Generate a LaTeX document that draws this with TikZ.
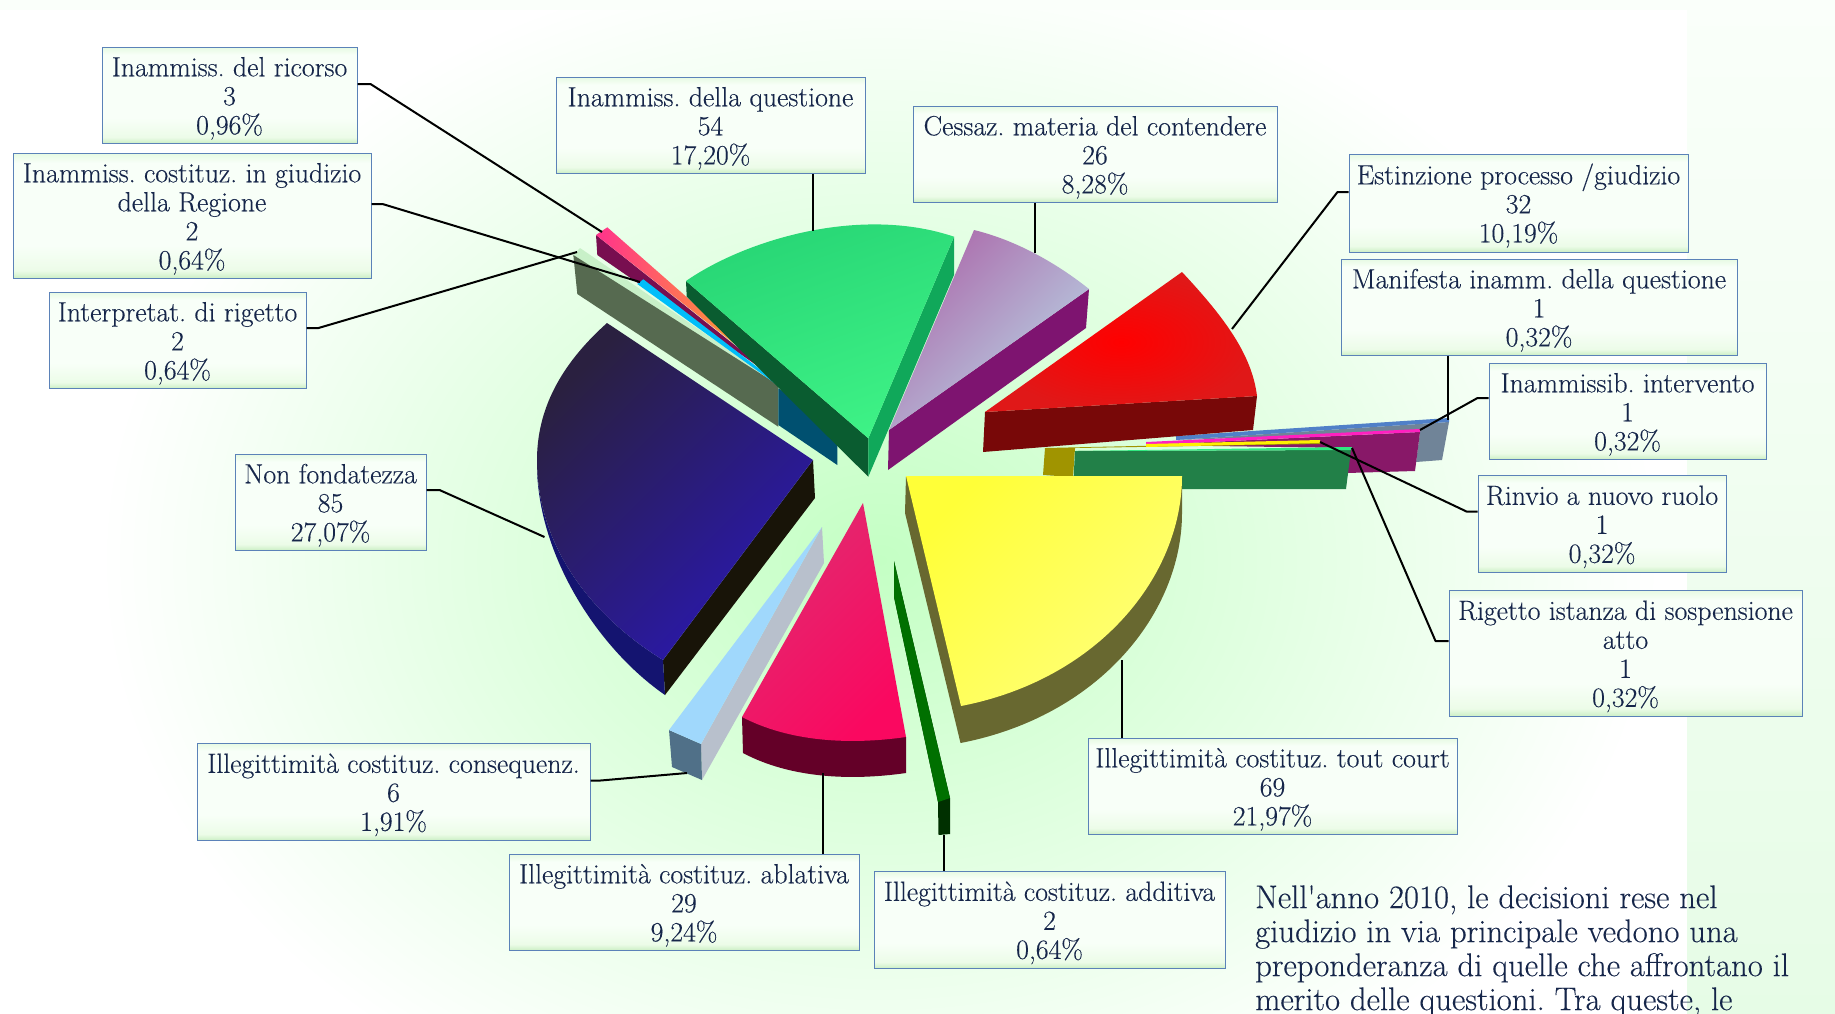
\documentclass[tikz,border=0pt]{standalone}
\usepackage{fontspec}
\setmainfont{Latin Modern Roman}[Ligatures=TeXOff,FakeBold=0.25]
\usetikzlibrary{calc}
\definecolor{txt}{HTML}{16264A}
\definecolor{bord}{HTML}{5B82B8}
\definecolor{glowa}{HTML}{CDEFC6}
\definecolor{glowb}{HTML}{ECFCE8}
\definecolor{glowc}{HTML}{F8FFF8}
\definecolor{glowd}{HTML}{E6FAE2}
\pgfdeclareverticalshading{labshade}{100bp}{color(0bp)=(glowa);color(25bp)=(glowa);color(28bp)=(glowb);color(38bp)=(glowc);color(71bp)=(glowc);color(75bp)=(glowd);color(100bp)=(glowd)}
\tikzset{
 x=1pt,y=-1pt,
 lab/.style={shade,shading=labshade,draw=bord,line width=1pt,align=center,inner sep=0pt,text=txt,
   font=\fontsize{27.8}{29}\selectfont\frenchspacing},
 conn/.style={draw=black,line width=2pt,line join=round}
}
\newcommand{\labbox}[6]{% name x1 y1 x2 y2 text
 \path node[lab,minimum width={#4-#2},minimum height={#5-#3}] (#1) at ({(#2+#4)/2},{(#3+#5)/2}) {\rule{0pt}{26pt}#6};}
\begin{document}
\begin{tikzpicture}
\useasboundingbox (0,0) rectangle (1835,1013);
% background
\shade[top color={rgb,255:red,250;green,255;blue,250},bottom color={rgb,255:red,230;green,252;blue,230}] (0,0) rectangle (1835,1020);
\begin{scope}
\clip (0,10) rectangle (1687,1020);
\fill[white] (0,10) rectangle (1687,1020);
\shade[inner color={rgb,255:red,196;green,255;blue,196},outer color=white] (880,560) ellipse [x radius=780,y radius=610];
\end{scope}
% right-hand thin slices
\fill[color={rgb,255:red,112;green,132;blue,152}] (1176,440) -- (1449,422) -- (1442,460) -- (1416,462) -- (1420,432) -- cycle;
\fill[color={rgb,255:red,80;green,128;blue,200}] (1176,436) -- (1449,418) -- (1449,422) -- (1176,440) -- cycle;
\fill[color={rgb,255:red,136;green,24;blue,104}] (1146,445) -- (1420,432) -- (1415,471) -- (1347,473) -- (1350,448) -- cycle;
\fill[color={rgb,255:red,255;green,32;blue,192}] (1146,442) -- (1420,429) -- (1420,432) -- (1146,445) -- cycle;
\fill[color={rgb,255:red,160;green,148;blue,0}] (1045,448) -- (1320,442) -- (1320,444) -- (1075,448) -- (1073,477) -- (1043,475) -- cycle;
\fill[color={rgb,255:red,255;green,240;blue,0}] (1146,444) -- (1320,440) -- (1320,443) -- (1146,447) -- cycle;
\fill[color={rgb,255:red,34;green,128;blue,72}] (1075,451) -- (1351,450) -- (1346,489) -- (1073,489) -- cycle;
\fill[color={rgb,255:red,48;green,232;blue,128}] (1075,451) -- (1352,447) -- (1351,450) -- cycle;
% red
\fill[color={rgb,255:red,120;green,8;blue,8}] (985,412) -- (1257,396) -- (1253,430) -- (983,452) -- cycle;
\shade[inner color=red,outer color={rgb,255:red,224;green,24;blue,24}] (985,412) -- (1182,272) .. controls (1225,318) and (1252,355) .. (1257,396) -- cycle;
% mauve
\fill[color={rgb,255:red,126;green,20;blue,112}] (889,430) -- (888,470) -- (1086,328) -- (1089,289) -- cycle;
\shade[top color={rgb,255:red,172;green,108;blue,172},bottom color={rgb,255:red,184;green,214;blue,230},shading angle=45] (889,430) -- (974,230) .. controls (1015,240) and (1055,262) .. (1089,289) -- cycle;
% left thin slices
\fill[color={rgb,255:red,200;green,240;blue,200}] (580,248) -- (573,255) -- (778,387) -- (780,385) -- cycle;
\fill[color={rgb,255:red,86;green,106;blue,80}] (573.3,255) -- (577.3,294) -- (778.3,426.7) -- (778.3,385) -- cycle;
\fill[color={rgb,255:red,120;green,14;blue,80}] (596,235) -- (597.3,255) -- (785,385) -- cycle;
\shade[left color={rgb,255:red,255;green,50;blue,140},middle color={rgb,255:red,255;green,110;blue,60},right color={rgb,255:red,255;green,190;blue,20}] (607.3,227.3) -- (596,235) -- (786.7,385) -- cycle;
\fill[color={rgb,255:red,0;green,80;blue,112}] (778.3,388.3) -- (837.3,422.7) -- (837.3,465) -- (778.3,425) -- cycle;
\fill[color={rgb,255:red,0;green,190;blue,250}] (643.3,279.3) -- (637.3,284) -- (828,421.7) -- cycle;
% green
\fill[color={rgb,255:red,10;green,92;blue,48}] (686,281) -- (686.7,296.7) -- (868.3,476.7) -- (868.3,438.3) -- cycle;
\fill[color={rgb,255:red,16;green,168;blue,90}] (954,236.7) -- (954,275) -- (868.3,476.7) -- (868.3,438.3) -- cycle;
\shade[top color={rgb,255:red,38;green,212;blue,116},bottom color={rgb,255:red,62;green,242;blue,134},shading angle=20] (868.3,438.3) -- (686,281) .. controls (745,240) and (860,205) .. (954,236.7) -- cycle;
% blue
\fill[color={rgb,255:red,24;green,20;blue,8}] (813,460) -- (815,498) -- (665,695) -- (663,660) -- cycle;
\fill[color={rgb,255:red,20;green,20;blue,112}] (537,460) .. controls (537,545) and (590,615) .. (663,660) -- (665,695) .. controls (600,650) and (540,560) .. (537,470) -- cycle;
\shade[top color={rgb,255:red,42;green,32;blue,64},bottom color={rgb,255:red,42;green,24;blue,176},shading angle=45] (813,460) -- (607,323) .. controls (560,365) and (537,410) .. (537,460) .. controls (537,545) and (590,615) .. (663,660) -- cycle;
% light blue sliver
\fill[color={rgb,255:red,184;green,192;blue,204}] (822,527) -- (824,563) -- (702,780) -- (701,744) -- cycle;
\fill[color={rgb,255:red,80;green,112;blue,136}] (669,730) -- (701,744) -- (702,780) -- (672,767) -- cycle;
\fill[color={rgb,255:red,160;green,216;blue,252}] (822,527) -- (669,730) -- (701,744) -- cycle;
% crimson
\fill[color={rgb,255:red,100;green,0;blue,40}] (742,717) -- (743,753) .. controls (790,778) and (850,781) .. (906,773) -- (906,737) -- cycle;
\shade[top color={rgb,255:red,224;green,44;blue,112},bottom color={rgb,255:red,250;green,8;blue,96},shading angle=45] (863,503) -- (742,717) .. controls (790,742) and (850,745) .. (906,737) -- cycle;
% dark green sliver
\fill[color={rgb,255:red,0;green,48;blue,0}] (894,561) -- (894,597) -- (938,802) -- (938.5,835) -- (950,834) -- (950,798) -- cycle;
\fill[color={rgb,255:red,0;green,112;blue,0}] (894,561) -- (950,798) -- (938,802) -- (894,597) -- cycle;
% yellow
\fill[color={rgb,255:red,104;green,104;blue,48}] (906,476) -- (905,513) -- (960.5,743) .. controls (1100,716) and (1182,612) .. (1182,513) -- (1182,476) -- cycle;
\shade[top color={rgb,255:red,255;green,255;blue,56},bottom color={rgb,255:red,255;green,255;blue,120},shading angle=45] (906,476) -- (1182,476) .. controls (1182,575) and (1100,679) .. (961,706) -- cycle;
% labels
\labbox{ricorso}{102}{47}{357}{143}{Inammiss. del ricorso\\3\\0,96\%}
\labbox{regione}{13}{153}{371}{278}{Inammiss. costituz. in giudizio\\della Regione\\2\\0,64\%}
\labbox{interp}{49}{292}{306}{388}{Interpretat. di rigetto\\2\\0,64\%}
\labbox{questione}{556}{77}{865}{173}{Inammiss. della questione\\54\\17,20\%}
\labbox{cessaz}{913}{106}{1277}{202}{Cessaz. materia del contendere\\26\\8,28\%}
\labbox{estinz}{1349}{154}{1688}{252}{Estinzione processo /giudizio\\32\\10,19\%}
\labbox{manif}{1341}{259}{1737}{355}{Manifesta inamm. della questione\\1\\0,32\%}
\labbox{interv}{1489}{363}{1766}{459}{Inammissib. intervento\\1\\0,32\%}
\labbox{rinvio}{1478}{475}{1726}{572}{Rinvio a nuovo ruolo\\1\\0,32\%}
\labbox{sosp}{1449}{590}{1802}{716}{Rigetto istanza di sospensione\\atto\\1\\0,32\%}
\labbox{tout}{1088}{738}{1457}{834}{Illegittimit\`a costituz. tout court\\69\\21,97\%}
\labbox{addit}{874}{871}{1225}{968}{Illegittimit\`a costituz. additiva\\2\\0,64\%}
\labbox{ablat}{509}{854}{859}{950}{Illegittimit\`a costituz. ablativa\\29\\9,24\%}
\labbox{conseq}{197}{743}{590}{840}{Illegittimit\`a costituz. consequenz.\\6\\1,91\%}
\labbox{nonf}{235}{454}{426}{550}{Non fondatezza\\85\\27,07\%}
% connector ends
\coordinate (e1) at (602,232);
\coordinate (e2) at (640,282);
\coordinate (e3) at (577,252);
\coordinate (e4) at (813,231);
\coordinate (e5) at (1035,253);
\coordinate (e6) at (1232,329);
\coordinate (e7) at (1448,420);
\coordinate (e8) at (1420,430);
\coordinate (e9) at (1320,442);
\coordinate (e10) at (1352,448);
\coordinate (e11) at (1122,660);
\coordinate (e12) at (944,835);
\coordinate (e13) at (823,773);
\coordinate (e14) at (687,773);
\coordinate (e15) at (544.5,537);
\draw[conn] ([yshift=11pt]ricorso.east) -- ++(13,0) -- (e1);
\draw[conn] ([yshift=11.5pt]regione.east) -- ++(11,0) -- (e2);
\draw[conn] ([yshift=12pt]interp.east) -- ++(12,0) -- (e3);
\draw[conn] (questione.south -| e4) -- (e4);
\draw[conn] (cessaz.south -| e5) -- (e5);
\draw[conn] ([yshift=11pt]estinz.west) -- ++(-11,0) -- (e6);
\draw[conn] (manif.south -| e7) -- (e7);
\draw[conn] ([yshift=13pt]interv.west) -- ++(-11,0) -- (e8);
\draw[conn] ([yshift=12pt]rinvio.west) -- ++(-11,0) -- (e9);
\draw[conn] ([yshift=12pt]sosp.west) -- ++(-13,0) -- (e10);
\draw[conn] (tout.north -| e11) -- (e11);
\draw[conn] (addit.north -| e12) -- (e12);
\draw[conn] (ablat.north -| e13) -- (e13);
\draw[conn] ([yshift=11pt]conseq.east) -- ++(10,0) -- (e14);
\draw[conn] ([yshift=12pt]nonf.east) -- ++(13,0) -- (e15);
% note
\node[anchor=north west,inner sep=0pt,align=left,text=txt,font=\fontsize{32.7}{34}\selectfont\frenchspacing] (note) at (1255,885) {Nell'anno 2010, le decisioni rese nel\\giudizio in via principale vedono una\\preponderanza di quelle che affrontano il\\merito delle questioni. Tra queste, le};
\end{tikzpicture}
\end{document}
